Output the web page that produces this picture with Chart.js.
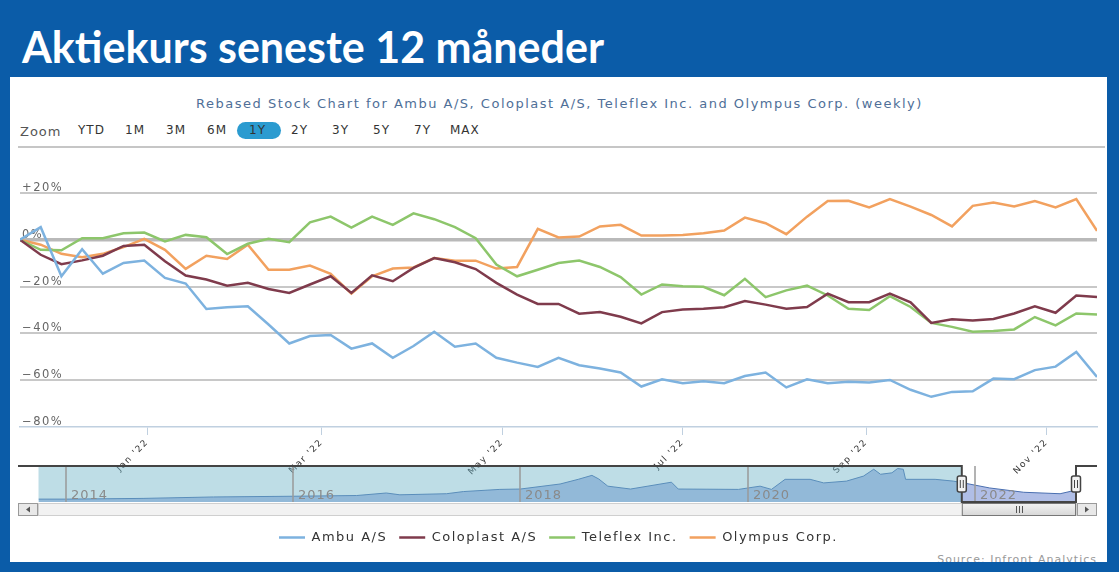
<!DOCTYPE html>
<html>
<head>
<meta charset="utf-8">
<script src="https://cdn.jsdelivr.net/npm/chart.js@4.4.1/dist/chart.umd.min.js"></script>
<style>
  html, body { margin: 0; padding: 0; }
  body { width: 1119px; height: 572px; background: #0b5ca8; position: relative; overflow: hidden; font-family: "DejaVu Sans", sans-serif; }
  #heading { position: absolute; left: 22px; top: 25px; font: 700 43px/44px Lato, sans-serif; color: #fff; white-space: nowrap; }
  #panel { position: absolute; left: 10px; top: 77px; width: 1097px; height: 485px; background: #fff; overflow: hidden; }
  #source { position: absolute; right: 10px; top: 476px; font-size: 11px; color: #999; letter-spacing: 1px; }
  #subtitle { position: absolute; left: 0; width: 1119px; top: 96px; text-align: center; font-size: 13px; line-height: 16px; color: #4f6f98; letter-spacing: 1.5px; }
  .zl { position: absolute; top: 124px; font-size: 13px; line-height: 16px; color: #555; letter-spacing: 1px; }
  .zb { position: absolute; top: 123px; font-size: 12px; line-height: 14px; color: #333; letter-spacing: 1px; }
  #pill { position: absolute; left: 237px; top: 122px; width: 44px; height: 17px; border-radius: 9px; background: #2b9bd0; }
  #sep { position: absolute; left: 18px; top: 146px; width: 1087px; height: 2px; background: #c6c6c6; }
  canvas { position: absolute; left: 0; }
</style>
</head>
<body>
<div id="heading">Aktiekurs seneste 12 måneder</div>
<div id="panel"><div id="source">Source: Infront Analytics</div></div>
<div id="subtitle">Rebased Stock Chart for Ambu A/S, Coloplast A/S, Teleflex Inc. and Olympus Corp. (weekly)</div>
<div class="zl" style="left:20px">Zoom</div>
<div id="pill"></div>
<div class="zb" style="left:78px">YTD</div>
<div class="zb" style="left:125px">1M</div>
<div class="zb" style="left:166px">3M</div>
<div class="zb" style="left:207px">6M</div>
<div class="zb" style="left:249px">1Y</div>
<div class="zb" style="left:291px">2Y</div>
<div class="zb" style="left:332px">3Y</div>
<div class="zb" style="left:373px">5Y</div>
<div class="zb" style="left:414px">7Y</div>
<div class="zb" style="left:450px">MAX</div>
<div id="sep"></div>
<canvas id="main" width="1119" height="410" style="top:150px"></canvas>
<canvas id="nav" width="1119" height="58" style="top:462px"></canvas>
<script>
// ugentlige kurser, rebased til 0% (19. nov 2021 - 18. nov 2022)
const ambu = [0, 5.4, -15.6, -4, -14.5, -9.9, -8.9, -16.3, -18.7, -29.6, -28.8, -28.4, -36.2, -44.3, -41.1, -40.7, -46.5, -44.3,
  -50.4, -45.4, -39.3, -45.7, -44.3, -50.4, -52.5, -54.3, -50.4, -53.6, -55, -56.7, -62.7, -59.6, -61.3, -60.4, -61.3,
  -58.2, -56.7, -63.1, -59.6, -61.3, -60.7, -61, -59.9, -64.1, -67.1, -65, -64.7, -59.3, -59.6, -55.7, -54.2, -47.9, -58.6];
const coloplast = [0, -6.4, -10.4, -8.8, -6.8, -2.6, -2.1, -9.2, -15.3, -17, -19.6, -18.4, -21, -22.7, -19.1, -15.6, -22.7, -15.2,
  -17.7, -12, -7.8, -9.6, -12.5, -18.4, -23.4, -27.4, -27.4, -31.6, -30.9, -32.9, -35.7, -30.9, -29.8, -29.5, -28.8,
  -26.2, -27.7, -29.5, -28.7, -23, -26.7, -26.7, -23, -26.7, -35.5, -34, -34.5, -33.8, -31.5, -28.4, -31.2, -23.8, -24.4];
const teleflex = [0, -4.3, -4.5, 0.7, 0.7, 2.8, 3.1, -0.7, 2.1, 1.1, -6.1, -1.7, 0.4, -1, 7.5, 9.9, 5.2, 9.9,
  6.4, 11.3, 8.8, 5.4, 0.7, -10.6, -15.6, -12.8, -9.9, -8.9, -11.6, -15.9, -23.4, -19.1, -19.9, -20.1, -23.7,
  -16.7, -24.5, -21.6, -19.6, -23.8, -29.5, -30, -24.1, -28.7, -35.5, -37.2, -39.3, -39, -38.3, -33, -36.6, -31.5, -31.9];
const olympus = [0, -2.1, -6, -7.4, -6, -3.1, 0.4, -4.3, -12.4, -6.8, -8.2, -2.1, -12.8, -12.8, -11, -14.5, -23, -15.6,
  -12.3, -11.8, -7.8, -8.9, -8.9, -12.3, -11.6, 4.7, 1, 1.4, 5.7, 6.4, 1.8, 1.8, 2.1, 2.8, 4,
  9.5, 7.1, 2.4, 9.9, 16.6, 16.7, 13.8, 17.4, 14.2, 10.6, 5.7, 14.5, 15.9, 14.2, 16.6, 13.8, 17.4, 3.8];

const seriesNames = ['Ambu A/S', 'Coloplast A/S', 'Teleflex Inc.', 'Olympus Corp.'];
const seriesColors = ['#7db2df', '#7f3b4c', '#8dc66b', '#f2a15f'];

// x-akse: dage efter 19. nov 2021
const tickDays = [43, 102, 163, 224, 286, 347];
const tickLabels = ["Jan '22", "Mar '22", "May '22", "Jul '22", "Sep '22", "Nov '22"];
const yTicks = [20, 0, -20, -40, -60, -80];
const yTickLabels = ['+20%', '0%', '\u221220%', '\u221240%', '\u221260%', '\u221280%'];

// navigator (hele historikken, normaliseret)
const navYears = [2013.76, 2014.0, 2014.68, 2015.3, 2016.0, 2016.56, 2016.82, 2016.94, 2017.35, 2017.5, 2017.82, 2018.0,
  2018.35, 2018.51, 2018.63, 2018.69, 2018.77, 2018.97, 2019.33, 2019.39, 2019.92, 2020.11, 2020.21, 2020.33,
  2020.55, 2020.67, 2020.87, 2021.02, 2021.11, 2021.17, 2021.27, 2021.32, 2021.37, 2021.39, 2021.65, 2021.81,
  2021.9, 2022.13, 2022.43, 2022.75, 2022.89];
const navValues = [0.08, 0.08, 0.1, 0.14, 0.16, 0.18, 0.25, 0.2, 0.23, 0.29, 0.35, 0.36,
  0.5, 0.63, 0.74, 0.64, 0.44, 0.36, 0.55, 0.36, 0.35, 0.44, 0.35, 0.63,
  0.63, 0.53, 0.58, 0.72, 0.91, 0.77, 0.81, 0.93, 0.91, 0.63, 0.63, 0.58,
  0.53, 0.39, 0.27, 0.23, 0.33];
const navYearTicks = [2014, 2016, 2018, 2020, 2022];
const navFrom = 2021.885, navTo = 2022.89;

const FONT = '"DejaVu Sans", sans-serif';
const days = ambu.map((_, i) => i * 7);

const spacing = {
  id: 'spacing',
  beforeLayout(c) { c.ctx.letterSpacing = '1.5px'; },
  beforeDraw(c) { c.ctx.letterSpacing = '1.5px'; }
};

new Chart(document.getElementById('main'), {
  type: 'line',
  data: {
    datasets: [ambu, coloplast, teleflex, olympus].map((vals, k) => ({
      label: seriesNames[k],
      data: vals.map((v, i) => ({ x: days[i], y: v })),
      borderColor: seriesColors[k],
      backgroundColor: seriesColors[k],
      borderWidth: 2.5,
      pointRadius: 0,
      tension: 0,
      fill: false
    }))
  },
  options: {
    responsive: false,
    animation: false,
    layout: { padding: { left: 20, right: 22, top: 43, bottom: 6 } },
    scales: {
      x: {
        type: 'linear', min: 0, max: 364,
        afterBuildTicks: s => { s.ticks = tickDays.map(v => ({ value: v })); },
        afterFit: s => { s.height = 92; },
        ticks: {
          callback: v => tickLabels[tickDays.indexOf(v)],
          minRotation: 45, maxRotation: 45, autoSkip: false, padding: 2,
          font: { family: FONT, size: 9 }, color: '#333'
        },
        grid: { drawOnChartArea: false, tickLength: 8, color: '#c0d0e0' },
        border: { color: '#c0d0e0', width: 1.5 }
      },
      y: {
        min: -80, max: 20,
        afterBuildTicks: s => { s.ticks = yTicks.map(v => ({ value: v })); },
        afterFit: s => { s.width = 0; },
        ticks: {
          callback: v => yTickLabels[yTicks.indexOf(v)],
          mirror: true, padding: 2, labelOffset: -5,
          font: { family: FONT, size: 11.5 }, color: '#666'
        },
        grid: {
          drawTicks: false,
          color: c => c.tick.value === -80 ? 'rgba(0,0,0,0)' : (c.tick.value === 0 ? '#b9b9b9' : '#c8c8c8'),
          lineWidth: c => c.tick.value === 0 ? 3.5 : 2
        },
        border: { display: false }
      }
    },
    plugins: {
      legend: {
        position: 'bottom',
        labels: {
          usePointStyle: true, pointStyle: 'line', pointStyleWidth: 26,
          padding: 12, color: '#333', font: { family: FONT, size: 13 }
        }
      },
      tooltip: { enabled: false }
    }
  },
  plugins: [spacing]
});

// navigator dekoration: maske, årstal, kontur, håndtag og scrollbar
const navDecor = {
  id: 'navDecor',
  afterDatasetsDraw(chart) {
    const { ctx, chartArea: a, scales: { x } } = chart;
    const s = x.getPixelForValue(navFrom), e = x.getPixelForValue(navTo);
    ctx.save();
    ctx.fillStyle = 'rgba(110,180,200,0.45)';
    ctx.fillRect(a.left, a.top, s - a.left, a.bottom - a.top);
    ctx.strokeStyle = '#9a9a9a';
    ctx.lineWidth = 1.5;
    ctx.fillStyle = '#8a8a8a';
    ctx.font = '13px ' + FONT;
    ctx.letterSpacing = '1px';
    navYearTicks.forEach(yr => {
      const px = Math.round(x.getPixelForValue(yr));
      ctx.beginPath(); ctx.moveTo(px, a.top); ctx.lineTo(px, a.bottom); ctx.stroke();
      ctx.fillText(String(yr), px + 5, a.bottom - 3);
    });
    // kontur
    ctx.strokeStyle = '#444';
    ctx.lineWidth = 2;
    ctx.beginPath();
    ctx.moveTo(18, a.top); ctx.lineTo(s, a.top); ctx.lineTo(s, a.bottom);
    ctx.lineTo(e, a.bottom); ctx.lineTo(e, a.top); ctx.lineTo(1097, a.top);
    ctx.stroke();
    // scrollbar
    const sy = a.bottom + 1, sh = 13;
    ctx.lineWidth = 1;
    ctx.fillStyle = '#f2f2f2'; ctx.strokeStyle = '#cfcfcf';
    ctx.fillRect(38, sy, 1039, sh); ctx.strokeRect(38.5, sy + 0.5, 1038, sh - 1);
    [[18, -1], [1077, 1]].forEach(([bx, dir]) => {
      ctx.fillStyle = '#e8e8e8'; ctx.strokeStyle = '#9a9a9a';
      ctx.fillRect(bx, sy, 20, sh); ctx.strokeRect(bx + 0.5, sy + 0.5, 19, sh - 1);
      ctx.fillStyle = '#555';
      ctx.beginPath();
      const cx = bx + 10, cy = sy + sh / 2;
      ctx.moveTo(cx + 2 * dir, cy); ctx.lineTo(cx - 2 * dir, cy - 3); ctx.lineTo(cx - 2 * dir, cy + 3);
      ctx.closePath(); ctx.fill();
    });
    const g = ctx.createLinearGradient(0, sy, 0, sy + sh);
    g.addColorStop(0, '#f4f4f4'); g.addColorStop(1, '#d6d6d6');
    ctx.fillStyle = g; ctx.strokeStyle = '#777';
    ctx.fillRect(s, sy, e - s, sh); ctx.strokeRect(s + 0.5, sy + 0.5, e - s - 1, sh - 1);
    ctx.strokeStyle = '#555';
    const mid = Math.round((s + e) / 2);
    [-3, 0, 3].forEach(d => { ctx.beginPath(); ctx.moveTo(mid + d + 0.5, sy + 3); ctx.lineTo(mid + d + 0.5, sy + sh - 3); ctx.stroke(); });
    // håndtag
    const hy = (a.top + a.bottom) / 2;
    [s, e].forEach(px => {
      ctx.fillStyle = '#f2f2f2'; ctx.strokeStyle = '#444'; ctx.lineWidth = 1.5;
      ctx.beginPath(); ctx.roundRect(px - 4.5, hy - 8, 9, 16, 2); ctx.fill(); ctx.stroke();
      ctx.strokeStyle = '#444'; ctx.lineWidth = 1;
      [-1.5, 1.5].forEach(d => { ctx.beginPath(); ctx.moveTo(px + d, hy - 4); ctx.lineTo(px + d, hy + 4); ctx.stroke(); });
    });
    ctx.restore();
  }
};

new Chart(document.getElementById('nav'), {
  type: 'line',
  data: {
    datasets: [{
      data: navValues.map((v, i) => ({ x: navYears[i], y: v })),
      borderColor: '#4a6fb0', borderWidth: 1,
      backgroundColor: 'rgba(80,110,200,0.45)',
      fill: 'origin', pointRadius: 0, tension: 0
    }]
  },
  options: {
    responsive: false,
    animation: false,
    layout: { padding: { left: 38.5, right: 43, top: 4, bottom: 18 } },
    scales: {
      x: { type: 'linear', display: false, min: navYears[0], max: navTo },
      y: { display: false, min: 0, max: 1 }
    },
    plugins: { legend: { display: false }, tooltip: { enabled: false } }
  },
  plugins: [navDecor]
});
</script>
</body>
</html>
